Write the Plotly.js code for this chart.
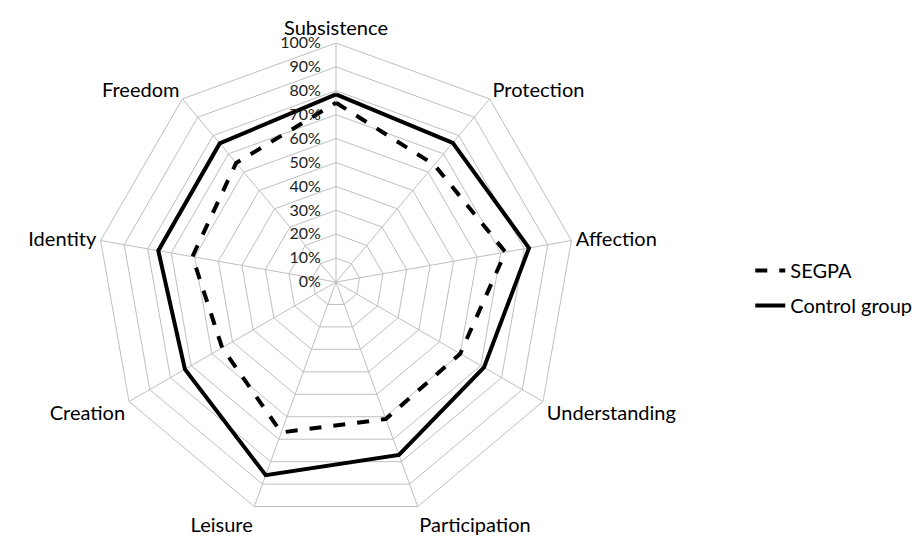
<!DOCTYPE html>
<html><head><meta charset="utf-8">
<script src="https://cdn.plot.ly/plotly-3.0.1.min.js"></script>
<style>html,body{margin:0;padding:0;background:#fff}</style>
</head><body>
<div id="chart" style="width:924px;height:539px"></div>
<script>
const categories = ["Subsistence","Protection","Affection","Understanding","Participation","Leisure","Creation","Identity","Freedom"];
const segpa = [0.75,0.64,0.72,0.60,0.61,0.67,0.55,0.61,0.65];
const control = [0.785,0.76,0.82,0.715,0.77,0.86,0.73,0.755,0.757];
const radialTicks = [0,0.1,0.2,0.3,0.4,0.5,0.6,0.7,0.8,0.9,1.0];
const radialTickText = ["0%","10%","20%","30%","40%","50%","60%","70%","80%","90%","100%"];

function closed(a){ return a.concat([a[0]]); }

const traces = [
  {type:"scatterpolar", mode:"lines", name:"SEGPA", legendgroup:"a", r:closed(segpa), theta:closed(categories),
   line:{color:"#000", width:4, dash:"dash"}},
  {type:"scatterpolar", mode:"lines", name:"Control group", legendgroup:"b", r:closed(control), theta:closed(categories),
   line:{color:"#000", width:4}}
];
const cx = 336, cy = 282, R = 239;
const layout = {
  width:924, height:539,
  margin:{l:0,r:0,t:0,b:0},
  paper_bgcolor:"#fff",
  font:{family:"Lato, 'Open Sans', sans-serif", color:"#000"},
  showlegend:true,
  legend:{x:0.812, y:1-288/539, xanchor:"left", yanchor:"middle", font:{size:20}, traceorder:"grouped", tracegroupgap:6, itemwidth:30},
  polar:{
    domain:{x:[(cx-R)/924,(cx+R)/924], y:[(539-cy-R)/539,(539-cy+R)/539]},
    gridshape:"linear",
    bgcolor:"#fff",
    radialaxis:{range:[0,1], tickvals:radialTicks, ticktext:radialTickText, angle:90, tickangle:90,
      side:"counterclockwise", showline:false, ticks:"outside", ticklen:9, tickcolor:"rgba(0,0,0,0)",
      gridcolor:"#bfbfbf", gridwidth:1, tickfont:{size:16, color:"#222"}},
    angularaxis:{direction:"clockwise", rotation:90, gridcolor:"#bfbfbf", linecolor:"#bfbfbf",
      showline:true, ticks:"", tickfont:{size:20, color:"#000"}}
  }
};
Plotly.newPlot("chart", traces, layout, {displayModeBar:false, staticPlot:true});
</script>
</body></html>
